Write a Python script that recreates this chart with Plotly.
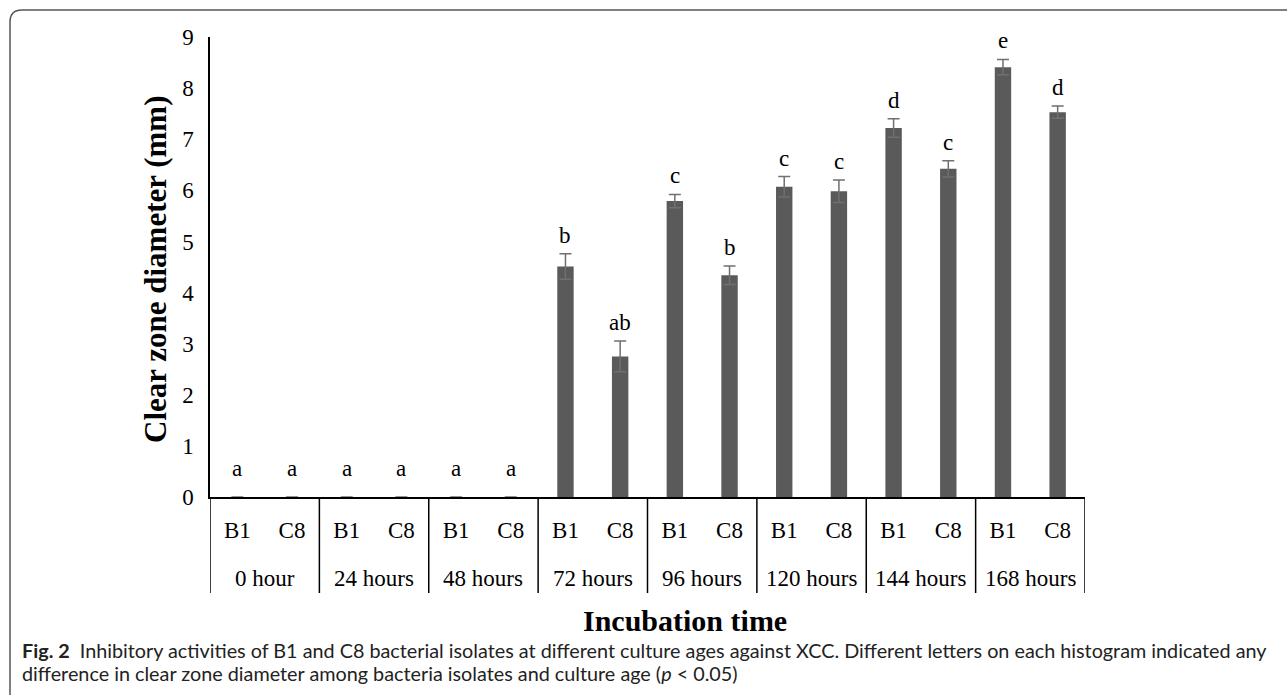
import plotly.graph_objects as go

# Incubation times and bacterial isolates
hours = ["0 hour", "24 hours", "48 hours", "72 hours", "96 hours",
         "120 hours", "144 hours", "168 hours"]
isolates = ["B1", "C8"]

# Mean clear zone diameter (mm) and error for each isolate
b1_mean = [0, 0, 0, 4.51, 5.79, 6.07, 7.22, 8.41]
c8_mean = [0, 0, 0, 2.75, 4.34, 5.98, 6.42, 7.53]
b1_err = [0, 0, 0, 0.25, 0.13, 0.20, 0.18, 0.15]
c8_err = [0, 0, 0, 0.30, 0.18, 0.22, 0.16, 0.12]

# Significance letters
b1_letters = ["a", "a", "a", "b", "c", "c", "d", "e"]
c8_letters = ["a", "a", "a", "ab", "b", "c", "c", "d"]

y_ticks = list(range(0, 10))

caption_1 = ("<b>Fig. 2</b>  Inhibitory activities of B1 and C8 bacterial isolates at "
             "different culture ages against XCC. Different letters on each histogram "
             "indicated any")
caption_2 = ("difference in clear zone diameter among bacteria isolates "
             "and culture age (<i>p</i> &lt; 0.05)")

# Flatten into one bar per (time, isolate)
cats, vals, errs, letters, tick_text = [], [], [], [], []
for i, h in enumerate(hours):
    for iso, m, e, l in ((isolates[0], b1_mean, b1_err, b1_letters),
                         (isolates[1], c8_mean, c8_err, c8_letters)):
        cats.append(f"{h} {iso}")
        vals.append(m[i])
        errs.append(e[i])
        letters.append(l[i])
        tick_text.append(iso)

W, H = 1287, 695
ML, MR, MT, MB = 210, 202, 37, 198
PW, PH = W - ML - MR, H - MT - MB
AXIS_Y = H - MB

def px_x(px):
    return (px - ML) / PW

def px_y(py):
    return (AXIS_Y - py) / PH

SERIF = "Liberation Serif"
BAR = "#5a5a5a"

fig = go.Figure()
fig.add_trace(go.Bar(
    x=cats, y=vals,
    marker=dict(color=BAR, line=dict(width=0)),
    error_y=dict(type="data", array=errs, symmetric=True,
                 color="#707070", thickness=1.5, width=6),
    showlegend=False, hoverinfo="skip",
))

annotations = []
# letters above each bar
for i, (v, e, l) in enumerate(zip(vals, errs, letters)):
    annotations.append(dict(
        x=i, y=v + e, xref="x", yref="y", text=l, showarrow=False,
        yanchor="bottom", yshift=4 if v > 0 else 14,
        font=dict(family=SERIF, size=23, color="black"),
    ))

# group labels and dividers of the category table
for g, h in enumerate(hours):
    annotations.append(dict(
        x=2 * g + 0.5, y=0, xref="x", yref="paper", text=h,
        showarrow=False, yanchor="middle", yshift=-81,
        font=dict(family=SERIF, size=23, color="black"),
    ))

shapes = []
for g in range(len(hours) + 1):
    shapes.append(dict(
        type="line", xref="x", yref="paper",
        x0=2 * g - 0.5, x1=2 * g - 0.5, y0=0, y1=px_y(593),
        line=dict(color="black", width=1.5),
    ))

# axis titles
annotations.append(dict(
    x=px_x(685), y=0, xref="paper", yref="paper", text="<b>Incubation time</b>",
    showarrow=False, xanchor="center", yanchor="middle",
    yshift=-(620 - AXIS_Y),
    font=dict(family=SERIF, size=30, color="black"),
))
annotations.append(dict(
    x=px_x(155), y=px_y(270), xref="paper", yref="paper",
    text="<b>Clear zone diameter (mm)</b>", textangle=-90,
    showarrow=False, xanchor="center", yanchor="middle",
    font=dict(family=SERIF, size=31, color="black"),
))

# caption, two lines
for text, cy in ((caption_1, 650), (caption_2, 673)):
    annotations.append(dict(
        x=px_x(20), y=0, xref="paper", yref="paper", xanchor="left",
        yanchor="middle", yshift=-(cy - AXIS_Y), align="left", showarrow=False,
        text=text, font=dict(family="Lato", size=19.8, color="#222222"),
    ))

# rounded frame around the figure
r = 12
frame = (f"M {px_x(W + 5)},{px_y(10)} L {px_x(10 + r)},{px_y(10)} "
         f"Q {px_x(10)},{px_y(10)} {px_x(10)},{px_y(10 + r)} "
         f"L {px_x(10)},{px_y(H + 5)}")
shapes.append(dict(type="path", xref="paper", yref="paper", path=frame,
                   line=dict(color="#555555", width=1.5)))

fig.update_layout(
    width=W, height=H,
    margin=dict(l=ML, r=MR, t=MT, b=MB, pad=0),
    paper_bgcolor="white", plot_bgcolor="white",
    bargap=0.7,
    xaxis=dict(
        type="category", tickvals=cats, ticktext=tick_text,
        showline=True, linecolor="black", linewidth=1.5,
        showgrid=False, ticks="", ticklabelstandoff=12,
        tickfont=dict(family=SERIF, size=23, color="black"),
        range=[-0.5, len(cats) - 0.5], fixedrange=True,
    ),
    yaxis=dict(
        range=[0, 9], tickvals=y_ticks,
        showline=True, linecolor="black", linewidth=1.5,
        showgrid=False, zeroline=False, ticks="", ticklabelstandoff=10,
        tickfont=dict(family=SERIF, size=23, color="black"),
        fixedrange=True,
    ),
    annotations=annotations,
    shapes=shapes,
)

fig.write_html("out.html")
